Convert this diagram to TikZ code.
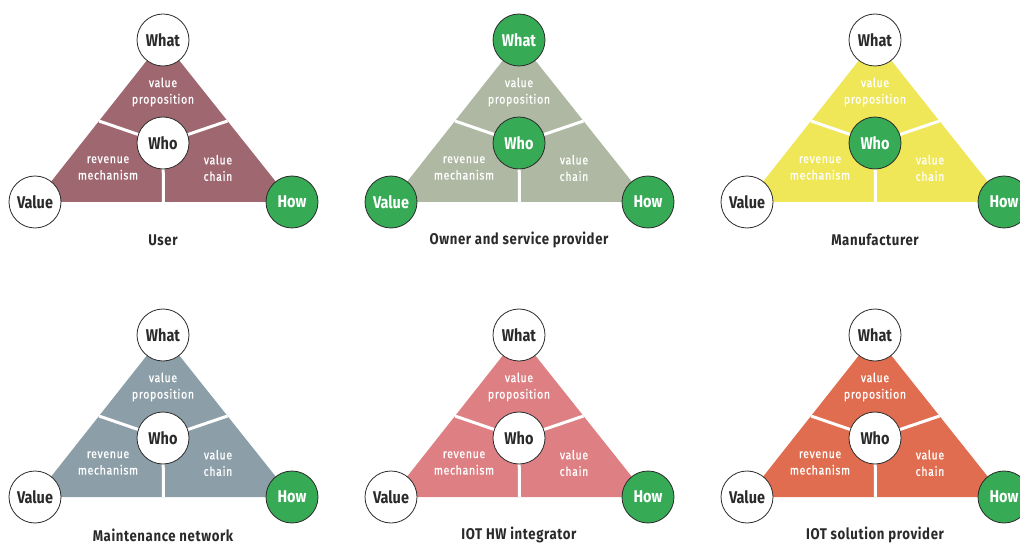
\documentclass[tikz,border=0pt]{standalone}
\usepackage{fontspec}
\setmainfont{Fira Sans}[FakeStretch=0.85]
\newfontfamily\capfont{Fira Sans}[FakeStretch=0.85,LetterSpace=4]
\newfontfamily\innerfont{Fira Sans}[FakeStretch=0.85,LetterSpace=5,FakeBold=0.6]
\usetikzlibrary{calc}
\pgfdeclarelayer{background}
\pgfsetlayers{background,main}
\definecolor{cmauve}{HTML}{9F6871}
\definecolor{csage}{HTML}{AEB8A2}
\definecolor{cyellow}{HTML}{EFE757}
\definecolor{cbluegrey}{HTML}{8C9FA9}
\definecolor{cpink}{HTML}{DE8083}
\definecolor{corange}{HTML}{E06D4F}
\definecolor{cgreen}{HTML}{36AA55}
\definecolor{cdark}{HTML}{2A2A2A}
\tikzset{
  corner/.style={circle, draw=cdark, line width=0.8pt, minimum size=52pt, inner sep=0pt,
    fill=white, text=cdark, font=\fontsize{17}{20}\selectfont\bfseries},
  hot/.style={fill=cgreen, text=white},
  inner/.style={text=white, align=center, font=\innerfont\fontsize{12.5}{16.5}\selectfont},
  caption/.style={text=cdark, font=\capfont\fontsize{15.5}{18}\selectfont\bfseries},
  divider/.style={white, line width=3pt}
}
% #1 name, #2 cx, #3 top y, #4 colour, #5 caption, #6-#9 extra styles for what, who, value, how
\newcommand\drawtri[9]{%
  \node[corner,#6] (#1what) at (#2,#3) {What};
  \node[corner,#8] (#1value) at (#2-128,#3+162) {Value};
  \node[corner,#9] (#1how) at (#2+129,#3+162) {How};
  \node[corner,#7] (#1who) at (#2,#3+103) {Who};
  \node[inner] (#1vp) at (#2,#3+52) {value\\proposition};
  \node[inner] (#1rm) at (#2-55,#3+128) {revenue\\mechanism};
  \node[inner] (#1vc) at (#2+55,#3+128) {value\\chain};
  \node[caption] (#1cap) at (#2,#3+200) {#5};
  \begin{pgfonlayer}{background}
    \fill[#4] (#1what.center) -- (#1value.center) -- (#1how.center) -- cycle;
    \draw[divider] (#1who.center) -- ($(#1what.center)!0.5!(#1value.center)$);
    \draw[divider] (#1who.center) -- ($(#1what.center)!0.5!(#1how.center)$);
    \draw[divider] (#1who.center) -- ($(#1value.center)!0.5!(#1how.center)$);
  \end{pgfonlayer}
}
\begin{document}
\begin{tikzpicture}[x=1pt,y=-1pt]
\useasboundingbox (0,0) rectangle (1020,545);
\clip (0,0) rectangle (1020,545);
\drawtri{a}{163}{40}{cmauve}{User}{}{}{}{hot}
\drawtri{b}{519}{40}{csage}{Owner and service provider}{hot}{hot}{hot}{hot}
\drawtri{c}{875}{40}{cyellow}{Manufacturer}{}{hot}{}{hot}
\drawtri{d}{163}{335}{cbluegrey}{Maintenance network}{}{}{}{hot}
\drawtri{e}{519}{335}{cpink}{IOT HW integrator}{}{}{}{hot}
\drawtri{f}{875}{335}{corange}{IOT solution provider}{}{}{}{hot}
\end{tikzpicture}
\end{document}
